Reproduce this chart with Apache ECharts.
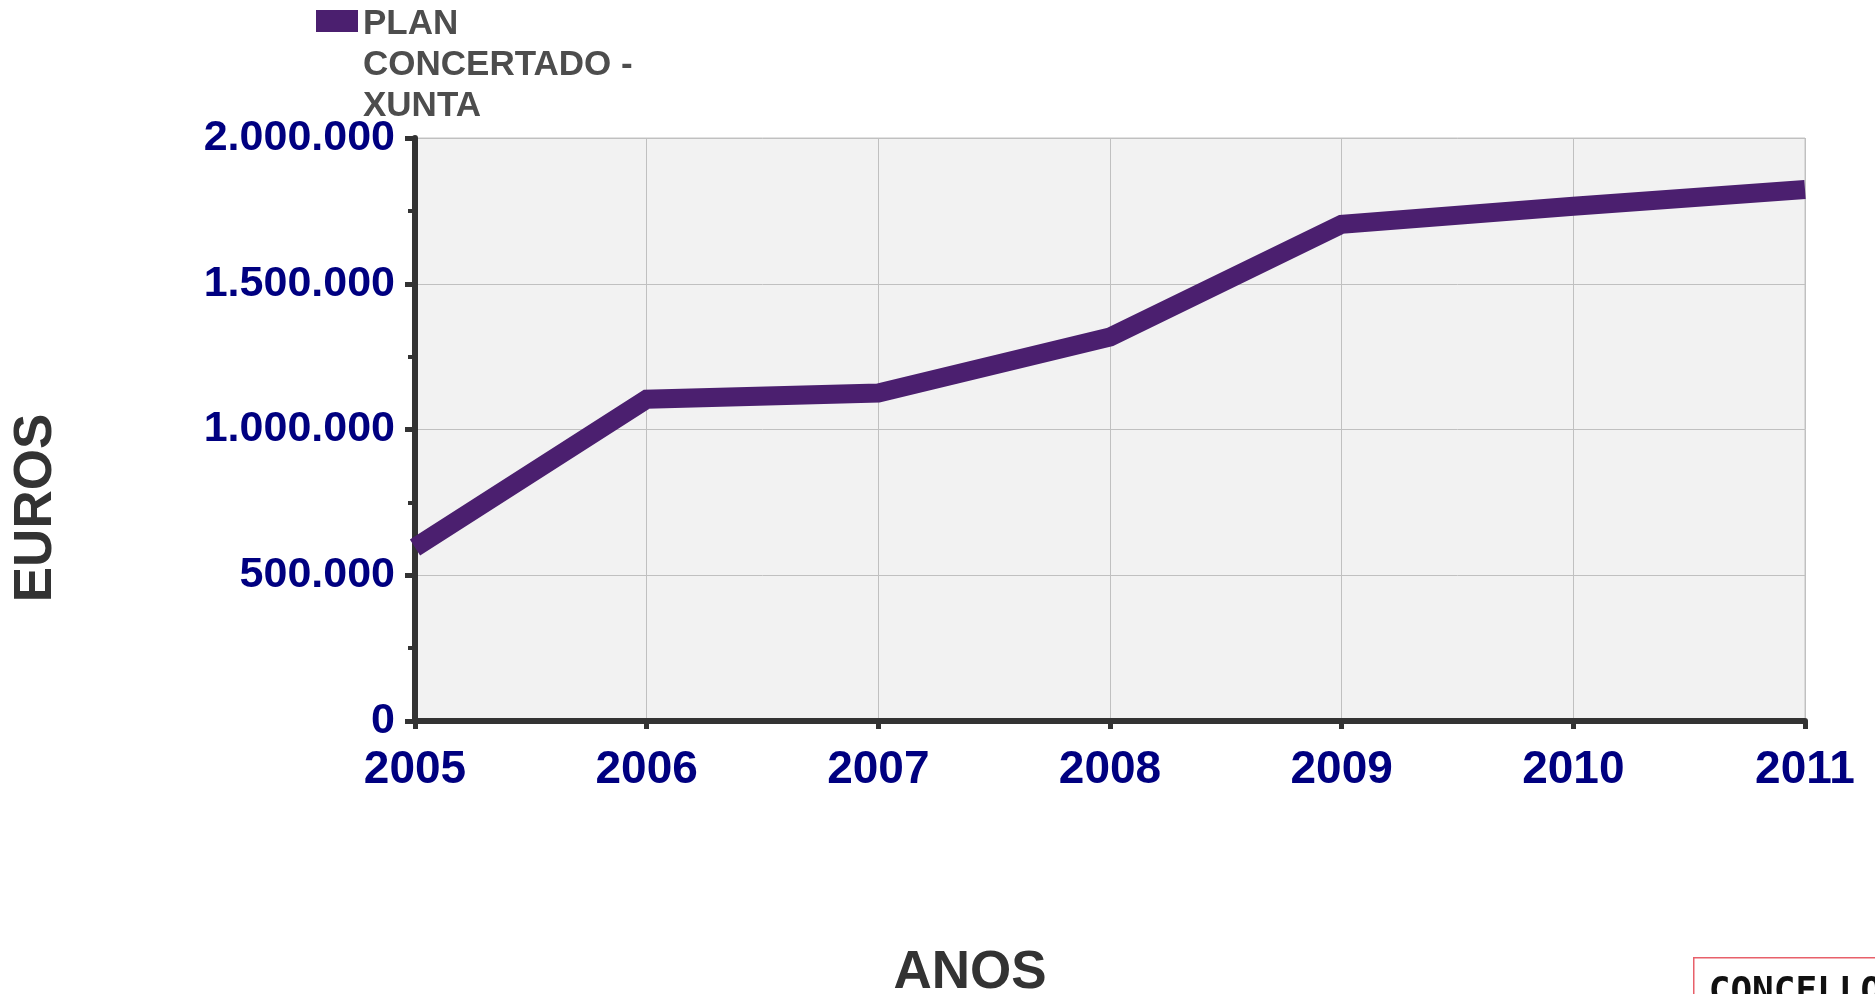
<!DOCTYPE html>
<html>
<head>
<meta charset="utf-8">
<script src="https://cdn.jsdelivr.net/npm/echarts@6/dist/echarts.min.js"></script>
<style>
html, body { margin: 0; padding: 0; background: #fff; }
#chart { width: 1875px; height: 994px; }
</style>
</head>
<body>
<div id="chart"></div>
<script>
// anos e importes do plan concertado
var years = ['2005', '2006', '2007', '2008', '2009', '2010', '2011'];
var planXunta = [595000, 1104000, 1125000, 1317000, 1704000, 1766000, 1823000];
var seriesName = 'PLAN CONCERTADO - XUNTA';
var yTicks = { min: 0, max: 2000000, step: 500000 };

var font = 'Liberation Sans, Arial, sans-serif';
var navy = '#000080';

function dots(v) {
    return String(v).replace(/\B(?=(\d{3})+(?!\d))/g, '.');
}

// icona da lenda: cadrado arriba, alto total = 3 liñas de texto
var legendIcon = 'path://M0,0L0.01,0L0.01,0.01L0,0.01Z M0,6L42,6L42,28L0,28Z M0,122.99L0.01,122.99L0.01,123L0,123Z';

var myChart = echarts.init(document.getElementById('chart'));
var option = {
    animation: false,
    legend: {
        data: [seriesName],
        left: 316,
        top: 4,
        padding: 0,
        icon: legendIcon,
        itemWidth: 42,
        itemHeight: 123,
        itemGap: 8,
        textStyle: {
            fontFamily: font,
            fontSize: 35,
            fontWeight: 'bold',
            color: '#4d4d4d',
            lineHeight: 41,
            width: 320,
            overflow: 'break'
        }
    },
    grid: {
        left: 415,
        right: 70,
        top: 138,
        bottom: 273,
        outerBoundsMode: 'none',
        containLabel: false,
        show: true,
        backgroundColor: '#f2f2f2',
        borderColor: '#c4c4c4',
        borderWidth: 1
    },
    xAxis: {
        type: 'category',
        data: years,
        boundaryGap: false,
        axisLine: { lineStyle: { color: '#333', width: 6 } },
        axisTick: { length: 8, lineStyle: { color: '#333', width: 5 } },
        axisLabel: { margin: 26, fontFamily: font, fontSize: 46, fontWeight: 'bold', color: navy },
        splitLine: { show: true, lineStyle: { color: '#c0c0c0', width: 1 } }
    },
    yAxis: {
        type: 'value',
        min: yTicks.min,
        max: yTicks.max,
        interval: yTicks.step,
        axisLine: { show: true, lineStyle: { color: '#333', width: 6 } },
        axisTick: { show: true, length: 10, lineStyle: { color: '#333', width: 5 } },
        minorTick: { show: true, splitNumber: 2, length: 7, lineStyle: { color: '#333', width: 4 } },
        axisLabel: {
            margin: 20,
            fontFamily: font,
            fontSize: 43,
            fontWeight: 'bold',
            color: navy,
            formatter: dots
        },
        splitLine: { show: true, lineStyle: { color: '#c0c0c0', width: 1 } }
    },
    series: [
        {
            name: seriesName,
            type: 'line',
            data: planXunta,
            showSymbol: false,
            symbol: 'none',
            clip: false,
            color: '#4b1f6f',
            lineStyle: { color: '#4b1f6f', width: 19, cap: 'butt', join: 'miter' }
        }
    ],
    graphic: [
        {
            type: 'text',
            x: 36,
            y: 508,
            rotation: Math.PI / 2,
            style: {
                text: 'EUROS',
                font: 'bold 53px ' + font,
                fill: '#333',
                align: 'center',
                verticalAlign: 'middle'
            }
        },
        {
            type: 'text',
            x: 970,
            y: 973,
            style: {
                text: 'ANOS',
                font: 'bold 53px ' + font,
                fill: '#333',
                align: 'center',
                verticalAlign: 'middle'
            }
        },
        {
            type: 'group',
            left: 1693,
            top: 957,
            children: [
                {
                    type: 'rect',
                    shape: { x: 0, y: 0, width: 260, height: 60 },
                    style: { fill: '#fff', stroke: '#e8606a', lineWidth: 1.5 }
                },
                {
                    type: 'text',
                    x: 15,
                    y: 17,
                    style: {
                        text: 'CONCELLO',
                        font: 'bold 36px "DejaVu Sans Mono", monospace',
                        fill: '#111'
                    }
                }
            ]
        }
    ]
};
myChart.setOption(option);
window.addEventListener('resize', function () { myChart.resize(); });
</script>
</body>
</html>
